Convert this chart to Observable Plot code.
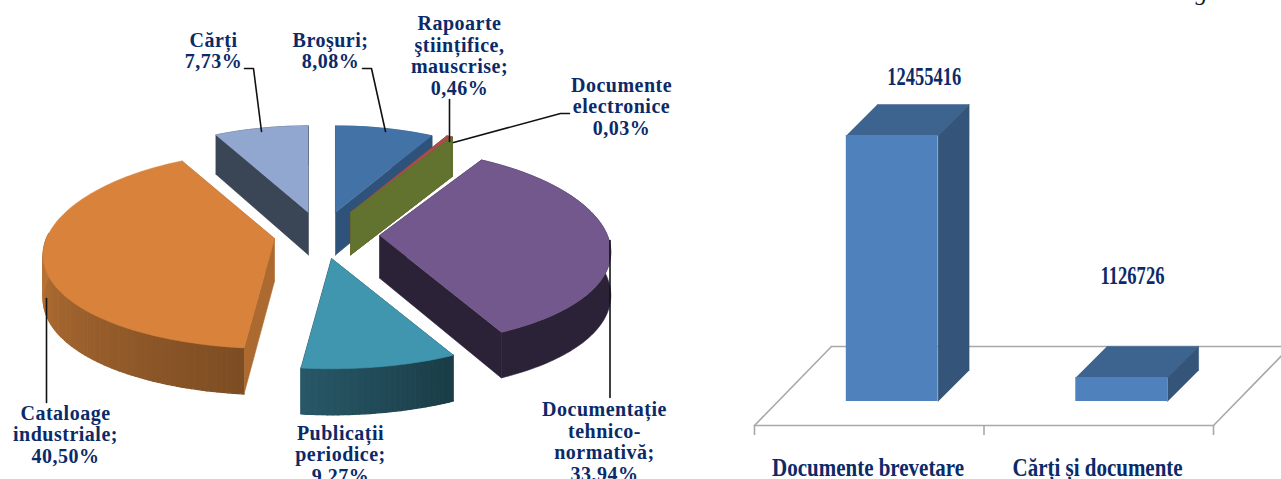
<!DOCTYPE html>
<html>
<head>
<meta charset="utf-8">
<script src="https://cdn.jsdelivr.net/npm/d3@7"></script>
<script src="https://cdn.jsdelivr.net/npm/@observablehq/plot@0.6"></script>
<style>
  html,body{margin:0;padding:0;background:#fff;overflow:hidden}
  #wrap{display:flex;width:1281px;height:479px}
  svg{display:block;flex:none}
</style>
</head>
<body>
<div id="wrap"></div>
<script>
// ---- Pie data (clockwise from top) ----
const pieNames  = ["Broşuri","Rapoarte ştiințifice, mauscrise","Documente electronice","Documentație tehnico-normativă","Publicații periodice","Cataloage industriale","Cărți"];
const pieValues = [8.08,0.46,0.03,33.94,9.27,40.50,7.73];
const pieLabels = ["Broşuri;\n8,08%","Rapoarte\nştiințifice,\nmauscrise;\n0,46%","Documente\nelectronice\n0,03%","Documentație\ntehnico-\nnormativă;\n33,94%","Publicații\nperiodice;\n9,27%","Cataloage\nindustriale;\n40,50%","Cărți\n7,73%"];
const pieTop    = ["#4372a6","#a84d4a","#62722f","#72588c","#4096ae","#d9823b","#92a7cf"];
const pieWallA  = ["#2f527a","#7c3a38","#62722f","#2c2237","#1a3d47","#7d4d23","#3a4556"];
const pieWallB  = ["#2f527a","#7c3a38","#62722f","#2c2237","#285868","#ba7436","#3a4556"];
// ---- Pie layout ----
const labelX = [330,459,621,604,340,65,213];
const labelY = [50,55,106,441,454,434,50];
const explodeX = [0.0366,0.101,0.101,0.226,0.0194,-0.226,-0.08];
const explodeY = [0.2526,0.2526,0.2526,0.0155,-0.2216,-0.0155,0.253];
const paintOrder = [6,0,1,2,3,5,4];
const cx = 326.5, cy = 236.5, Rx = 228, Ry = 97, perspX = 0.17, perspY = 0.12;
// ---- Leaders ----
const leaderSlice = [6,6,6,0,0,0,1,1,2,2,2,3,3,5,5];
const leaderX = [244,253,261,362,371,385,449,449,569,560,453,609.5,609.5,46,46];
const leaderY = [68,68,131,68,68,131,99,141,113,113,142,240,397,298,402];
// ---- Bar data ----
const barNames  = ["Documente brevetare","Cărți și documente"];
const barValues = [12455416,1126726];
const barLabelX = [0.74,1.647];
const barLabelRow = [76,275];
const barLabelWidth = [74,64];
const barNameWidth = [192,170];
const barFront = "#4f81bd", barTop = "#3d638f", barSide = "#345479";
const ink = "#0b2a68", serif = "'Liberation Serif','Times New Roman',serif";

// pie geometry from the values
const arcs = d3.pie().sort(null).value(d=>d).startAngle(0).endAngle(2*Math.PI)(pieValues);
const depth = Y => 42.5 - 3.5*Y;
const piePolys = [];
let pid = 0;
function pushPoly(pts,color,sw){ const id = pid++; pts.forEach(p=>piePolys.push({id,x:p.x,y:p.y,color,sw})); }
for (const i of paintOrder){
  const a = arcs[i];
  const ax = cx + 232*explodeX[i], ay = cy - Ry*explodeY[i];
  const n = Math.max(2,Math.ceil((a.endAngle-a.startAngle)/0.02));
  const dirs = d3.range(n+1).map(k=>{
    const t = a.startAngle+(a.endAngle-a.startAngle)*k/n;
    return [Math.sin(t), Math.cos(t)];
  });
  const top = ([X,Y])=>({x: ax + Rx*X/(1+perspX*Y), y: ay - Ry*Y/(1+perspY*Y)});
  const bot = d=>{const p = top(d); return {x:p.x, y:p.y+depth(d[1])};};
  const apex = {x:ax,y:ay}, apexLow = {x:ax,y:ay+depth(0)};
  const col = d3.interpolateRgb(pieWallA[i],pieWallB[i]);
  [dirs[0],dirs[n]].forEach(e=>{
    const c = i===5 ? "#ad6a30" : pieWallA[i];
    pushPoly([apex,top(e),bot(e),apexLow],c,0.6);
  });
  if (pieWallA[i]===pieWallB[i]) {
    pushPoly([...dirs.map(top),...dirs.slice().reverse().map(bot)],pieWallA[i],0.6);
  } else {
    for (let k=0;k<n;k++){
      const s = dirs[k], e = dirs[k+1];
      if (s[1]>0.05) continue;
      const f = i===5 ? Math.min(1,k/(n*0.58)) : k/n;
      pushPoly([top(s),top(e),bot(e),bot(s)],col(f),1.4);
    }
  }
  pushPoly([apex,...dirs.map(top)],pieTop[i],0.6);
}
const leaders = leaderX.map((x,j)=>({s:leaderSlice[j],x,y:leaderY[j]}));
const pieLabelRows = pieLabels.map((t,i)=>({t,x:labelX[i],y:labelY[i]}));

const pie = Plot.plot({
  width:740,height:479,margin:0,
  x:{domain:[0,740],range:[0,740],axis:null},
  y:{domain:[0,479],range:[0,479],axis:null},
  marks:[
    Plot.line(piePolys,{x:"x",y:"y",z:"id",fill:"color",stroke:"color",strokeWidth:"sw"}),
    Plot.line(leaders,{x:"x",y:"y",z:"s",stroke:"#111",strokeWidth:1.6}),
    Plot.text(pieLabelRows,{x:"x",y:"y",text:"t",fill:ink,fontSize:20,fontWeight:"bold",fontFamily:serif,lineHeight:1.08,textAnchor:"middle",lineAnchor:"middle"})
  ]
});
pie.querySelectorAll("text").forEach(t=>t.style.letterSpacing="0.5px");

// bar chart: x in category units, y in value units
const pxPerValue = (401-135)/barValues[0];
const v = px => (401-px)/pxPerValue;
const depthX = 31/229.5, depthV = 31/pxPerValue, floorX = 77/229.5, floorV = 79/pxPerValue;
const floorGrey = "#a9a9a9";
const floorFront = v(425);
const floorLines = [
  {id:"back",x:floorX,y:floorFront+floorV},{id:"back",x:2.5,y:floorFront+floorV},
  {id:"left",x:0,y:floorFront},{id:"left",x:floorX,y:floorFront+floorV},
  {id:"front",x:0,y:floorFront},{id:"front",x:2,y:floorFront},
  {id:"right",x:2,y:floorFront},{id:"right",x:2+floorX,y:floorFront+floorV}
];
const bars = barValues.map((value,i)=>({value,x1:i+0.4,x2:i+0.8}));
const barFaces = [];
bars.forEach((b,i)=>{
  const add=(id,c,ps)=>ps.forEach(([x,y])=>barFaces.push({id:i+id,color:c,x,y}));
  add("t",barTop,[[b.x1,b.value],[b.x2,b.value],[b.x2+depthX,b.value+depthV],[b.x1+depthX,b.value+depthV]]);
  add("s",barSide,[[b.x2,0],[b.x2,b.value],[b.x2+depthX,b.value+depthV],[b.x2+depthX,depthV]]);
});
const barPlot = Plot.plot({
  width:541,height:479,margin:0,
  x:{domain:[0,2],range:[14,473],axis:null},
  y:{domain:[v(479),v(0)],range:[479,0],axis:null},
  marks:[
    Plot.line(floorLines,{x:"x",y:"y",z:"id",stroke:floorGrey,strokeWidth:1.6}),
    Plot.ruleX([0,1,2],{y1:v(425),y2:v(435),stroke:floorGrey,strokeWidth:1.6}),
    Plot.line(barFaces,{x:"x",y:"y",z:"id",fill:"color",stroke:"color",strokeWidth:0.5}),
    Plot.rect(bars,{x1:"x1",x2:"x2",y1:0,y2:"value",fill:barFront}),
    Plot.text(barValues,{x:(d,i)=>barLabelX[i],y:(d,i)=>v(barLabelRow[i]),text:d=>String(d),fill:ink,fontSize:25,fontWeight:"bold",fontFamily:serif,className:"val"}),
    Plot.text(barNames,{x:(d,i)=>i+0.495,y:v(467),text:d=>d,fill:ink,fontSize:26,fontWeight:"bold",fontFamily:serif,className:"cat"}),
    Plot.text(["g"],{x:1.948,y:v(-8),text:d=>d,fill:"#111",fontSize:24,fontStyle:"italic",fontFamily:serif})
  ]
});
const fit=(sel,widths)=>barPlot.querySelectorAll(sel+" text").forEach((t,i)=>{
  t.setAttribute("textLength",widths[i]);
  t.setAttribute("lengthAdjust","spacingAndGlyphs");
});
fit(".val",barLabelWidth);
fit(".cat",barNameWidth);
document.getElementById("wrap").append(pie,barPlot);
</script>
</body>
</html>
